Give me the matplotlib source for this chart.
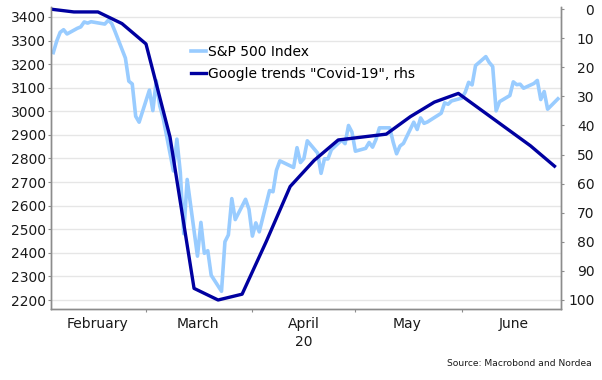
"""
S&P 500 vs Google trends "Covid-19" (rhs), Feb-Jun 2020
"""

import datetime as dt

import matplotlib
matplotlib.use("Agg")
import matplotlib.pyplot as plt
import matplotlib.transforms as mtransforms


# S&P 500 daily closes
spx_dates = [
    "2020-02-03", "2020-02-04", "2020-02-05", "2020-02-06", "2020-02-07",
    "2020-02-10", "2020-02-11", "2020-02-12", "2020-02-13", "2020-02-14",
    "2020-02-18", "2020-02-19", "2020-02-20", "2020-02-21",
    "2020-02-24", "2020-02-25", "2020-02-26", "2020-02-27", "2020-02-28",
    "2020-03-02", "2020-03-03", "2020-03-04", "2020-03-05", "2020-03-06",
    "2020-03-09", "2020-03-10", "2020-03-11", "2020-03-12", "2020-03-13",
    "2020-03-16", "2020-03-17", "2020-03-18", "2020-03-19", "2020-03-20",
    "2020-03-23", "2020-03-24", "2020-03-25", "2020-03-26", "2020-03-27",
    "2020-03-30", "2020-03-31", "2020-04-01", "2020-04-02", "2020-04-03",
    "2020-04-06", "2020-04-07", "2020-04-08", "2020-04-09",
    "2020-04-13", "2020-04-14", "2020-04-15", "2020-04-16", "2020-04-17",
    "2020-04-20", "2020-04-21", "2020-04-22", "2020-04-23", "2020-04-24",
    "2020-04-27", "2020-04-28", "2020-04-29", "2020-04-30", "2020-05-01",
    "2020-05-04", "2020-05-05", "2020-05-06", "2020-05-07", "2020-05-08",
    "2020-05-11", "2020-05-12", "2020-05-13", "2020-05-14", "2020-05-15",
    "2020-05-18", "2020-05-19", "2020-05-20", "2020-05-21", "2020-05-22",
    "2020-05-26", "2020-05-27", "2020-05-28", "2020-05-29",
    "2020-06-01", "2020-06-02", "2020-06-03", "2020-06-04", "2020-06-05",
    "2020-06-08", "2020-06-09", "2020-06-10", "2020-06-11", "2020-06-12",
    "2020-06-15", "2020-06-16", "2020-06-17", "2020-06-18", "2020-06-19",
    "2020-06-22", "2020-06-23", "2020-06-24", "2020-06-25", "2020-06-26",
    "2020-06-29",
]

spx_values = [
    3249, 3298, 3335, 3346, 3328,
    3352, 3358, 3379, 3374, 3380,
    3370, 3386, 3373, 3338,
    3226, 3128, 3116, 2979, 2954,
    3090, 3003, 3130, 3024, 2972,
    2747, 2882, 2741, 2481, 2711,
    2386, 2529, 2398, 2409, 2305,
    2237, 2447, 2476, 2630, 2541,
    2627, 2585, 2471, 2527, 2489,
    2664, 2659, 2750, 2790,
    2762, 2846, 2783, 2800, 2875,
    2823, 2737, 2799, 2798, 2837,
    2878, 2863, 2940, 2912, 2831,
    2843, 2868, 2848, 2881, 2930,
    2930, 2870, 2820, 2853, 2864,
    2954, 2923, 2972, 2949, 2955,
    2992, 3036, 3030, 3044,
    3056, 3081, 3123, 3112, 3194,
    3232, 3207, 3190, 3002, 3041,
    3067, 3125, 3113, 3115, 3098,
    3118, 3131, 3050, 3084, 3009,
    3053,
]

# Google trends, weekly (Sundays)
gt_dates = [
    "2020-02-02", "2020-02-09", "2020-02-16", "2020-02-23",
    "2020-03-01", "2020-03-08", "2020-03-15", "2020-03-22", "2020-03-29",
    "2020-04-05", "2020-04-12", "2020-04-19", "2020-04-26",
    "2020-05-03", "2020-05-10", "2020-05-17", "2020-05-24", "2020-05-31",
    "2020-06-07", "2020-06-14", "2020-06-21", "2020-06-28",
]

gt_values = [
    0, 1, 1, 5,
    12, 44, 96, 100, 98,
    80, 61, 52, 45,
    44, 43, 37, 32, 29,
    35, 41, 47, 54,
]

month_labels = ["February", "March", "April", "May", "June"]

########################################################

spx_x = [dt.datetime.strptime(d, "%Y-%m-%d") for d in spx_dates]
gt_x = [dt.datetime.strptime(d, "%Y-%m-%d") for d in gt_dates]

light = "#99CCFF"
dark = "#0000A0"
grey = "#8c8c8c"
txt = "#1a1a1a"

plt.rcParams["font.family"] = "DejaVu Sans"

fig = plt.figure(figsize=(6.02, 3.8), dpi=100)

ax = fig.add_axes([0.0842, 0.1868, 0.8477, 0.7948])
ax2 = ax.twinx()

l1, = ax.plot(spx_x, spx_values, color=light, lw=2.6,
              label="S&P 500 Index", solid_joinstyle="round")
l2, = ax2.plot(gt_x, gt_values, color=dark, lw=2.4,
               label='Google trends "Covid-19", rhs', solid_joinstyle="round")

start = dt.datetime(2020, 2, 1)
ax.set_xlim(start + dt.timedelta(days=1.24), start + dt.timedelta(days=149.9))

ax.set_ylim(2161.8, 3442.4)
ax.set_yticks(range(2200, 3401, 100))
ax2.set_ylim(103.1, -0.7)
ax2.set_yticks(range(0, 101, 10))

ax.grid(axis="y", color="#e6e6e6", lw=1)
ax.set_axisbelow(True)

# month ticks at month starts, labels mid-month
ax.set_xticks([dt.datetime(2020, m, 1) for m in range(3, 7)])
ax.set_xticklabels([])
ax.set_xticks([dt.datetime(2020, m, 16) for m in range(2, 7)], minor=True)
ax.set_xticklabels(month_labels, minor=True)
ax.tick_params(axis="x", which="minor", length=0, pad=5.5,
               labelsize=10, labelcolor=txt)
ax.tick_params(axis="x", which="major", length=2.5, color=grey)

ax.tick_params(axis="y", length=2.5, color=grey, labelsize=10,
               labelcolor=txt, pad=0.8)
ax2.tick_params(axis="y", length=2.5, color=grey, labelsize=10,
                labelcolor=txt, pad=21.5)
for lab in ax2.get_yticklabels():
    lab.set_horizontalalignment("right")

for a in (ax, ax2):
    a.spines["top"].set_visible(False)
    for s in ("left", "right", "bottom"):
        a.spines[s].set_color(grey)
        a.spines[s].set_linewidth(1)

# year label under April
year_tr = mtransforms.blended_transform_factory(ax.transData, fig.transFigure)
ax.text(dt.datetime(2020, 4, 16), 1 - 342 / 380, "20", transform=year_tr,
        ha="center", va="center", fontsize=10, color=txt)

ax2.legend(
    handles=[l1, l2],
    loc="upper left",
    bbox_to_anchor=(0.274, 0.875),
    frameon=False,
    fontsize=10,
    handlelength=1.1,
    handletextpad=0.15,
    labelspacing=0.6,
    borderpad=0,
    borderaxespad=0,
)

fig.text(592 / 602, 1 - 364 / 380, "Source: Macrobond and Nordea",
         ha="right", va="center", fontsize=6.6, color=txt)

fig.savefig("out.png", dpi=100)
